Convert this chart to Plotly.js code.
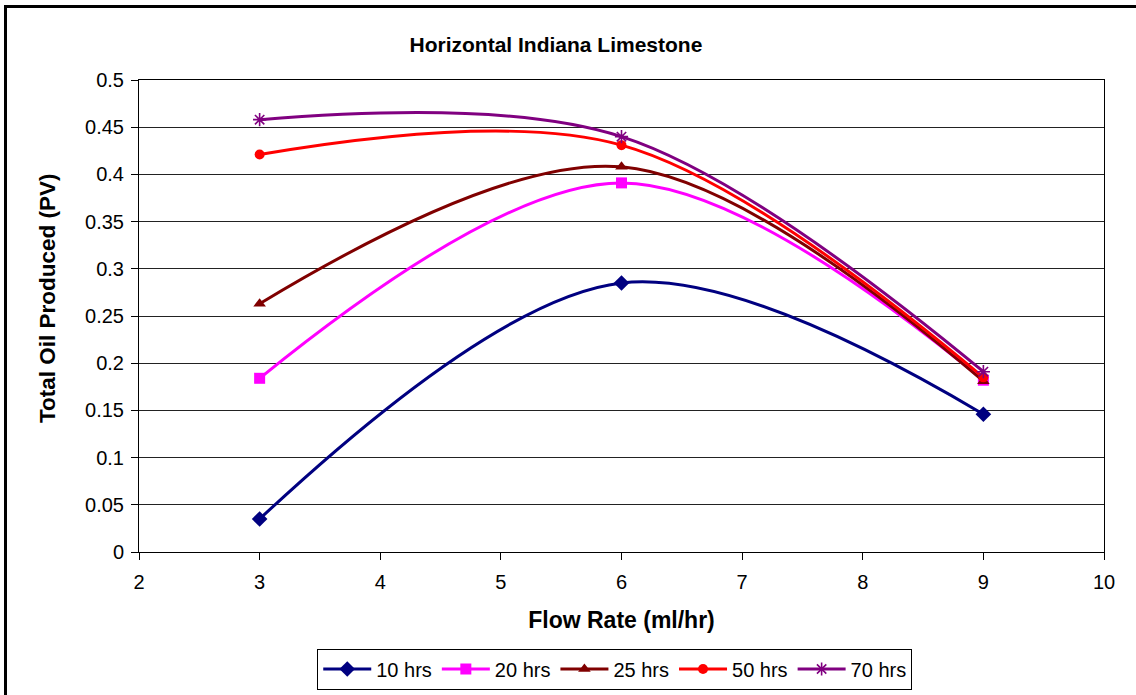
<!DOCTYPE html>
<html>
<head>
<meta charset="utf-8">
<script src="https://cdn.plot.ly/plotly-3.0.1.min.js"></script>
<style>
  html, body { margin: 0; padding: 0; background: #fff; }
  #frame { position: absolute; left: 0; top: 0; width: 1136px; height: 695px; overflow: hidden; }
  #border { position: absolute; left: 4px; top: 5px; width: 1140px; height: 700px;
            border-left: 3px solid #000; border-top: 3px solid #000; pointer-events: none; }
  #chart { position: absolute; left: 0; top: 0; width: 1136px; height: 695px; }
</style>
</head>
<body>
<div id="frame">
  <div id="chart"></div>
  <div id="border"></div>
</div>
<script>
// Flow rates tested (ml/hr)
const flowRates = [3, 6, 9];

// Total oil produced (PV) after each elapsed time
const oil10hrs = [0.035, 0.285, 0.146];
const oil20hrs = [0.184, 0.391, 0.182];
const oil25hrs = [0.263, 0.408, 0.181];
const oil50hrs = [0.421, 0.431, 0.185];
const oil70hrs = [0.458, 0.440, 0.191];

const seriesNames = ['10 hrs', '20 hrs', '25 hrs', '50 hrs', '70 hrs'];
const seriesValues = [oil10hrs, oil20hrs, oil25hrs, oil50hrs, oil70hrs];

const styles = [
  { color: '#000080', symbol: 'diamond', size: 12, lineColor: '#000080', lineWidth: 0 },
  { color: '#FF00FF', symbol: 'square', size: 11, lineColor: '#FF00FF', lineWidth: 0 },
  { color: '#800000', symbol: 'triangle-up', size: 11, lineColor: '#800000', lineWidth: 0 },
  { color: '#FF0000', symbol: 'circle', size: 10, lineColor: '#FF0000', lineWidth: 0 },
  { color: '#800080', symbol: 'asterisk-open', size: 11, lineColor: '#000000', lineWidth: 1.6 }
];

const traces = seriesNames.map((name, i) => ({
  type: 'scatter',
  mode: 'lines+markers',
  name: name,
  x: flowRates,
  y: seriesValues[i],
  line: { color: styles[i].color, width: 3, shape: 'spline', smoothing: 1 },
  marker: {
    symbol: styles[i].symbol,
    size: styles[i].size,
    color: styles[i].color,
    line: { color: styles[i].lineColor, width: styles[i].lineWidth }
  }
}));

const layout = {
  width: 1136,
  height: 695,
  margin: { l: 139, r: 32, t: 80, b: 143 },
  paper_bgcolor: '#ffffff',
  plot_bgcolor: '#ffffff',
  font: { family: 'Arial, "Liberation Sans", sans-serif', color: '#000', size: 20 },
  title: {
    text: '<b>Horizontal Indiana Limestone</b>',
    font: { size: 21, family: 'Arial, "Liberation Sans", sans-serif', color: '#000' },
    x: 0.4894, xanchor: 'center', xref: 'container',
    y: 1 - 45 / 695, yref: 'container', yanchor: 'middle'
  },
  xaxis: {
    range: [2, 10],
    dtick: 1,
    tick0: 2,
    showgrid: false,
    zeroline: false,
    showline: true,
    linecolor: '#000',
    linewidth: 1,
    mirror: true,
    ticks: 'outside',
    ticklen: 7,
    tickcolor: '#000',
    tickfont: { size: 20 },
    ticklabelstandoff: 5,
    title: { text: '<b>Flow Rate (ml/hr)</b>', font: { size: 23 }, standoff: 19 }
  },
  yaxis: {
    range: [0, 0.5],
    dtick: 0.05,
    tick0: 0,
    showgrid: true,
    gridcolor: '#222',
    gridwidth: 1,
    zeroline: false,
    showline: true,
    linecolor: '#000',
    linewidth: 1,
    mirror: true,
    ticks: 'outside',
    ticklen: 7,
    tickcolor: '#000',
    tickfont: { size: 20 },
    ticklabelstandoff: 3
  },
  annotations: [{
    text: '<b>Total Oil Produced (PV)</b>',
    font: { size: 22.5 },
    textangle: -90,
    xref: 'paper', yref: 'paper',
    x: (47 - 139) / 965, y: 0.538,
    xanchor: 'center', yanchor: 'middle',
    showarrow: false
  }],
  showlegend: true,
  legend: {
    orientation: 'h',
    x: 0.493, xref: 'paper', xanchor: 'center',
    y: 1 - 669 / 695, yref: 'container', yanchor: 'middle',
    bordercolor: '#000',
    borderwidth: 1,
    bgcolor: '#fff',
    font: { size: 20 },
    itemwidth: 48,
    tracegroupgap: 0
  }
};

Plotly.newPlot('chart', traces, layout, { displayModeBar: false, staticPlot: true });
</script>
</body>
</html>
